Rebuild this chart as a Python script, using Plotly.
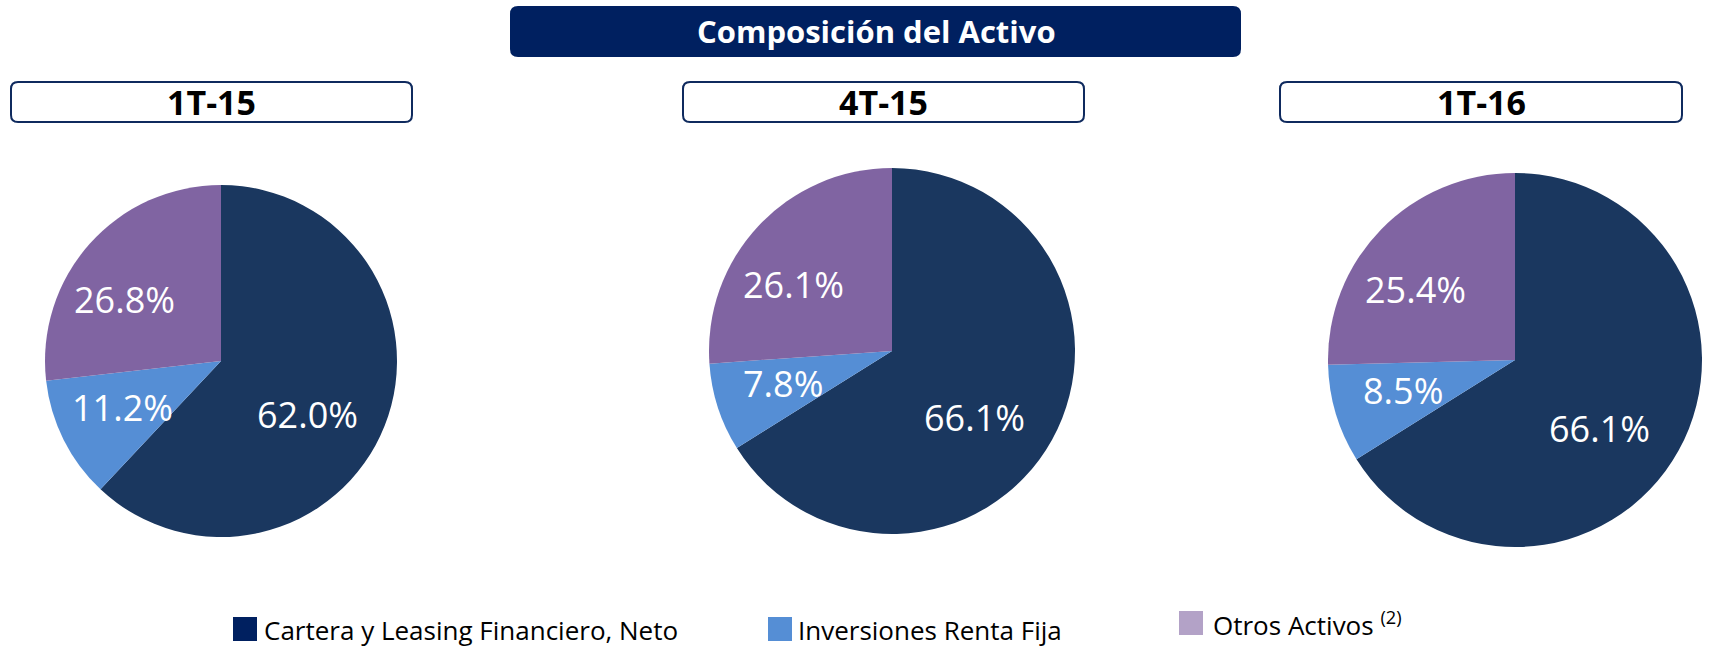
import math
import plotly.graph_objects as go

W, H = 1710, 648

# ---- data ----
categories = ["Cartera y Leasing Financiero, Neto", "Inversiones Renta Fija", "Otros Activos"]
periods = ["1T-15", "4T-15", "1T-16"]
vals_1t15 = [62.0, 11.2, 26.8]
vals_4t15 = [66.1, 7.8, 26.1]
vals_1t16 = [66.1, 8.5, 25.4]
series = [vals_1t15, vals_4t15, vals_1t16]

title_text = "Composición del Activo"
legend_labels = ["Cartera y Leasing Financiero, Neto", "Inversiones Renta Fija",
                 "Otros Activos <sup>(2)</sup>"]

# ---- style ----
pie_colors = ["#1A375F", "#558ED5", "#8064A2"]
legend_colors = ["#002060", "#558ED5", "#B3A2C7"]
navy = "#002060"
# label placement per category: radial fraction and angular nudge (degrees)
label_frac = [0.58, 0.62, 0.65]
label_nudge = [10, 1.5, -9]

# pie placement (pixels): center x, center y, radius
pie_geo = [(221, 361, 176), (892, 351, 183), (1515, 360, 187)]
sub_boxes = [(11, 412), (683, 1084), (1280, 1682)]


def px(x):
    return x / W


def py(y):
    return 1 - y / H


def rounded_rect(x0, y0, x1, y1, r):
    pts = [
        ("M", x0 + r, y0), ("L", x1 - r, y0), ("Q", x1, y0, x1, y0 + r),
        ("L", x1, y1 - r), ("Q", x1, y1, x1 - r, y1), ("L", x0 + r, y1),
        ("Q", x0, y1, x0, y1 - r), ("L", x0, y0 + r), ("Q", x0, y0, x0 + r, y0),
    ]
    s = ""
    for p in pts:
        cmd = p[0]
        coords = p[1:]
        parts = []
        for i in range(0, len(coords), 2):
            parts.append(f"{px(coords[i]):.6f},{py(coords[i+1]):.6f}")
        s += cmd + " ".join(parts) + " "
    return s + "Z"


fig = go.Figure()
annotations = []
shapes = []

for vals, (cx, cy, r) in zip(series, pie_geo):
    fig.add_trace(go.Pie(
        labels=categories, values=vals, sort=False, direction="clockwise",
        rotation=0, marker=dict(colors=pie_colors, line=dict(width=0)),
        textinfo="none", hoverinfo="label+value", showlegend=False,
        domain=dict(x=[px(cx - r), px(cx + r)], y=[py(cy + r), py(cy - r)]),
    ))
    total = sum(vals)
    cum = 0.0
    for v, frac, nudge in zip(vals, label_frac, label_nudge):
        mid = (cum + v / 2) / total * 2 * math.pi + math.radians(nudge)
        cum += v
        lx = cx + math.sin(mid) * r * frac
        ly = cy - math.cos(mid) * r * frac
        annotations.append(dict(
            x=px(lx), y=py(ly), xref="paper", yref="paper", showarrow=False,
            text=f"{v:.1f}%", font=dict(family="Open Sans", size=36, color="white"),
            xanchor="center", yanchor="middle"))

# title box
shapes.append(dict(type="path", path=rounded_rect(510, 6, 1241, 57, 8),
                   xref="paper", yref="paper", fillcolor=navy, line=dict(width=0)))
annotations.append(dict(x=px(876), y=py(31), xref="paper", yref="paper", showarrow=False,
                        text=f"<b>{title_text}</b>",
                        font=dict(family="Open Sans", size=31, color="white"),
                        xanchor="center", yanchor="middle"))

# period boxes
for (x0, x1), per in zip(sub_boxes, periods):
    shapes.append(dict(type="path", path=rounded_rect(x0, 82, x1, 122, 7),
                       xref="paper", yref="paper", fillcolor="white",
                       line=dict(color="#0F2A5E", width=2)))
    annotations.append(dict(x=px((x0 + x1) / 2), y=py(102), xref="paper", yref="paper",
                            showarrow=False, text=f"<b>{per}</b>",
                            font=dict(family="Open Sans", size=34, color="black"),
                            xanchor="center", yanchor="middle"))

# legend
leg_pos = [(233, 629, 262), (768, 629, 796), (1179, 623, 1211)]
for (sx, sy, tx), col, lab in zip(leg_pos, legend_colors, legend_labels):
    shapes.append(dict(type="rect", xref="paper", yref="paper",
                       x0=px(sx), x1=px(sx + 24), y0=py(sy + 12), y1=py(sy - 12),
                       fillcolor=col, line=dict(width=0)))
    annotations.append(dict(x=px(tx), y=py(sy + 1), xref="paper", yref="paper",
                            showarrow=False, text=lab,
                            font=dict(family="Open Sans", size=26, color="black"),
                            xanchor="left", yanchor="middle"))

fig.update_layout(
    width=W, height=H, margin=dict(l=0, r=0, t=0, b=0),
    paper_bgcolor="white", plot_bgcolor="white",
    shapes=shapes, annotations=annotations, showlegend=False,
)

fig.write_html(
    "out.html",
    config={"displayModeBar": False},
    post_script="document.body.style.margin='0';document.body.style.overflow='hidden';",
)
